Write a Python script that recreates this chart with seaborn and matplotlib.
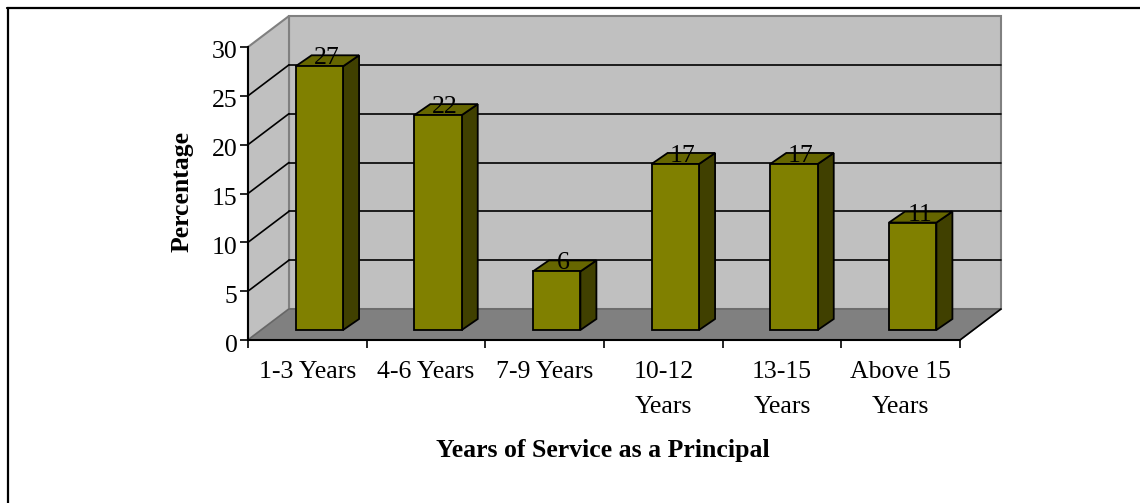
import matplotlib
matplotlib.use('Agg')
import matplotlib.pyplot as plt
import numpy as np
import pandas as pd
import seaborn as sns
from matplotlib.lines import Line2D
from matplotlib.patches import Polygon
from matplotlib.transforms import Affine2D

# Chart data
CATEGORIES = ['1-3 Years', '4-6 Years', '7-9 Years', '10-12\nYears', '13-15\nYears', 'Above 15\nYears']
VALUES = [27, 22, 6, 17, 17, 11]
Y_TICKS = [0, 5, 10, 15, 20, 25, 30]

W, H = 1140, 503
X0, X1, Y0, Y30 = 248, 960, 340, 47   # front plane in image pixels
DEPTH = (41, 31)      # back wall offset
BAR_SHIFT = (12, 10)  # bars stand this far into the floor
BAR_DEPTH = (16, 11)
FONT_SIZE = 18.5

sns.set_style('white')
plt.rcParams['font.family'] = ['Liberation Serif', 'DejaVu Serif']
plt.rcParams['text.color'] = 'black'
plt.rcParams['xtick.labelcolor'] = 'black'
plt.rcParams['ytick.labelcolor'] = 'black'

fig = plt.figure(figsize=(W / 100, H / 100), dpi=100)
ax = fig.add_axes([X0 / W, (H - Y0) / H, (X1 - X0) / W, (Y0 - Y30) / H])

df = pd.DataFrame({'years': CATEGORIES, 'pct': VALUES})
sns.barplot(data=df, x='years', y='pct', color='#808000', saturation=1, width=0.4,
            edgecolor='black', linewidth=1.3, ax=ax, zorder=5)
ax.set_xlim(-0.5, len(CATEGORIES) - 0.5)
ax.set_ylim(0, 30)


def shifted(dx, dy):
    return ax.transData + Affine2D().translate(dx, dy)


back = shifted(DEPTH[0], DEPTH[1])
xl, xr = ax.get_xlim()
WALL = dict(edgecolor='#808080', linewidth=1.5)

# back wall, side wall, floor
ax.add_patch(Polygon([(xl, 0), (xr, 0), (xr, 30), (xl, 30)], facecolor='#C0C0C0',
                     transform=back, clip_on=False, zorder=1, **WALL))
side = ax.transData.transform([(xl, 0), (xl, 30)])
ax.add_patch(Polygon([side[0], side[1], side[1] + DEPTH, side[0] + DEPTH], facecolor='#C0C0C0',
                     transform=None, clip_on=False, zorder=1, **WALL))
fl = ax.transData.transform([(xl, 0), (xr, 0)])
ax.add_patch(Polygon([fl[0], fl[1], fl[1] + DEPTH, fl[0] + DEPTH], facecolor='#808080',
                     edgecolor='#666666', linewidth=1, transform=None, clip_on=False, zorder=2))
ax.plot([fl[1][0], fl[1][0] + DEPTH[0]], [fl[1][1], fl[1][1] + DEPTH[1]], color='black',
        lw=1.2, transform=None, clip_on=False, zorder=3)

# gridlines run along the side wall and the back wall
for tick in Y_TICKS[1:-1]:
    ax.plot([xl, xr], [tick, tick], color='black', lw=1.2, transform=back, clip_on=False, zorder=3)
    p = ax.transData.transform((xl, tick))
    ax.plot([p[0], p[0] + DEPTH[0]], [p[1], p[1] + DEPTH[1]], color='black', lw=1.2,
            transform=None, clip_on=False, zorder=3)

# bars: move the seaborn front faces back, then add top and side faces
dep = np.array(BAR_DEPTH)
for bar, val in zip(ax.patches[:len(VALUES)], VALUES):
    bar.set_transform(shifted(*BAR_SHIFT))
    bar.set_clip_on(False)
    x_left, x_right = bar.get_x(), bar.get_x() + bar.get_width()
    pts = shifted(*BAR_SHIFT).transform([(x_left, 0), (x_right, 0), (x_right, val), (x_left, val)])
    ax.add_patch(Polygon([pts[1], pts[2], pts[2] + dep, pts[1] + dep], facecolor='#404000',
                         edgecolor='black', linewidth=1.3, transform=None, clip_on=False, zorder=4))
    ax.add_patch(Polygon([pts[3], pts[2], pts[2] + dep, pts[3] + dep], facecolor='#666600',
                         edgecolor='black', linewidth=1.3, transform=None, clip_on=False, zorder=4))
    ax.text((x_left + x_right) / 2, val, str(val), transform=shifted(BAR_SHIFT[0] + 7, BAR_SHIFT[1] + 8),
            ha='center', va='center', fontsize=FONT_SIZE, color='black', zorder=6, clip_on=False)

# axes
for name in ('top', 'right'):
    ax.spines[name].set_visible(False)
for name in ('left', 'bottom'):
    ax.spines[name].set_linewidth(1.5)
    ax.spines[name].set_color('black')
    ax.spines[name].set_zorder(7)

ax.set_yticks(Y_TICKS)
ax.tick_params(axis='y', length=6, width=1.2, color='black', labelsize=FONT_SIZE, pad=1.5, left=True)
for lab in ax.get_yticklabels():
    lab.set_transform(lab.get_transform() + Affine2D().translate(0, -3))
ax.set_xticks(np.arange(len(CATEGORIES) + 1) - 0.5, minor=True)
ax.tick_params(axis='x', which='minor', length=6, width=1.2, color='black', bottom=True)
ax.tick_params(axis='x', which='major', length=0, labelsize=FONT_SIZE, pad=15)
for lab in ax.get_xticklabels():
    lab.set_linespacing(1.78)

ax.set_xlabel('')
ax.set_ylabel('')
fig.text(603 / W, 1 - 451 / H, 'Years of Service as a Principal', fontsize=FONT_SIZE, fontweight='bold',
         ha='center', va='center')
fig.text(182 / W, 1 - 192 / H, 'Percentage', fontsize=FONT_SIZE, fontweight='bold', rotation=90,
         ha='center', va='center')

# the page frame: only the top and left rules show
fig.add_artist(Line2D([7 / W, 1], [1 - 7.5 / H] * 2, color='black', lw=1.6, transform=fig.transFigure))
fig.add_artist(Line2D([8 / W] * 2, [0, 1 - 7.5 / H], color='black', lw=1.6, transform=fig.transFigure))

fig.savefig('out.png', dpi=100)
